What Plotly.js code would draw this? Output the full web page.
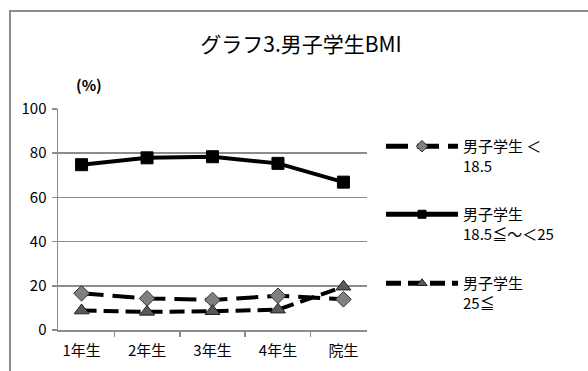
<!DOCTYPE html>
<html><head><meta charset="utf-8">
<script src="https://cdn.plot.ly/plotly-3.0.1.min.js"></script>
<style>
html,body{margin:0;padding:0;background:#fff;}
#frame{position:absolute;left:9px;top:10px;width:620px;height:420px;border:2px solid #8c8c8c;box-sizing:border-box;}
#chart{position:absolute;left:0;top:0;width:588px;height:371px;}
</style></head>
<body>
<div id="frame"></div>
<div id="chart"></div>
<script>
const categories = ['1年生','2年生','3年生','4年生','院生'];
const seriesNames = ['男子学生 ＜<br>18.5','男子学生<br>18.5≦～＜25','男子学生<br>25≦'];
const under185 = [16.6, 14.3, 13.6, 15.5, 13.9];
const normal = [74.8, 77.9, 78.4, 75.4, 66.9];
const over25 = [8.8, 8.2, 8.5, 9.2, 19.6];
const yTicks = [0, 20, 40, 60, 80, 100];

const FONT = '"Noto Sans CJK JP", "Noto Sans", sans-serif';

const styles = [
  {line: {color: '#000', width: 4, dash: '22px,9px'}, symbol: 'diamond', fill: '#808080', edge: '#333', size: 12, lsize: 9},
  {line: {color: '#000', width: 4}, symbol: 'square', fill: '#000', edge: '#000', size: 12, lsize: 8},
  {line: {color: '#000', width: 4, dash: '15px,7px'}, symbol: 'triangle-up', fill: '#595959', edge: '#222', size: 13, lsize: 9}
];
const seriesData = [under185, normal, over25];
const legendIds = ['legend', 'legend2', 'legend3'];

const traces = [];
seriesData.forEach((vals, i) => {
  const s = styles[i];
  traces.push({x: categories, y: vals, name: seriesNames[i], mode: 'lines+markers', showlegend: false,
    line: s.line, marker: {symbol: s.symbol, size: s.size, color: s.fill, line: {color: s.edge, width: 1}}});
});
// legend entries (same series, smaller legend marker like the reference)
seriesData.forEach((vals, i) => {
  const s = styles[i];
  traces.push({x: [null], y: [null], name: seriesNames[i], mode: 'lines+markers', legend: legendIds[i],
    line: Object.assign({}, s.line, {width: 5}),
    marker: {symbol: s.symbol, size: s.lsize, color: s.fill, line: {color: s.edge, width: 1}}});
});

const legendCommon = {
  xref: 'container', yref: 'container', xanchor: 'left', yanchor: 'top',
  bgcolor: 'rgba(0,0,0,0)', borderwidth: 0, valign: 'top',
  itemwidth: 72, font: {family: FONT, size: 15, color: '#000'}
};

const layout = {
  width: 588, height: 371,
  margin: {l: 58, r: 221, t: 109, b: 41},
  paper_bgcolor: 'rgba(0,0,0,0)', plot_bgcolor: 'rgba(0,0,0,0)',
  title: {text: 'グラフ3.男子学生BMI', x: 301/588, xanchor: 'center', y: 1 - 45/371, yanchor: 'middle',
          xref: 'container', yref: 'container',
          font: {family: FONT, size: 21, color: '#000'}},
  font: {family: FONT, color: '#000'},
  showlegend: true,
  legend: Object.assign({}, legendCommon, {x: 381/588, y: 1 - 130/371}),
  legend2: Object.assign({}, legendCommon, {x: 381/588, y: 1 - 198/371}),
  legend3: Object.assign({}, legendCommon, {x: 381/588, y: 1 - 267/371}),
  xaxis: {
    type: 'category', tickson: 'boundaries', ticks: 'outside', ticklen: 5,
    tickcolor: '#8c8c8c', tickwidth: 1.5,
    showline: true, linecolor: '#8c8c8c', linewidth: 1.5,
    showgrid: false, zeroline: false, ticklabelstandoff: 6,
    tickfont: {family: FONT, size: 15, color: '#000'}
  },
  yaxis: {
    range: [0, 100], tickvals: yTicks, ticktext: yTicks.map(String),
    ticks: 'outside', ticklen: 5, tickcolor: '#8c8c8c', tickwidth: 1.5,
    showline: true, linecolor: '#8c8c8c', linewidth: 1.5,
    showgrid: true, gridcolor: '#8c8c8c', gridwidth: 1.5,
    zeroline: false, ticklabelstandoff: 2,
    tickfont: {family: FONT, size: 15, color: '#000'}
  },
  annotations: [
    {text: '<b>(%)</b>', xref: 'paper', yref: 'paper', x: 0.1, y: 1.11, xanchor: 'center', yanchor: 'middle',
     showarrow: false, font: {family: FONT, size: 15, color: '#000'}}
  ]
};

Plotly.newPlot('chart', traces, layout, {displayModeBar: false, staticPlot: true});
</script>
</body></html>
